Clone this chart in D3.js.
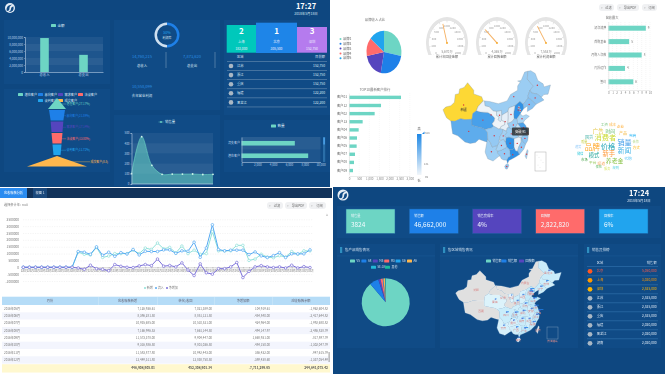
<!DOCTYPE html>
<html>
<head>
<meta charset="utf-8">
<script src="https://cdnjs.cloudflare.com/ajax/libs/d3/7.8.5/d3.min.js"></script>
<style>
html, body { margin: 0; padding: 0; background: #fff; overflow: hidden; }
svg { display: block; filter: blur(0.35px); }
text { font-family: "Noto Sans CJK SC", "Noto Sans", sans-serif; }
</style>
</head>
<body>
<script>
// palette shared by all four dashboards
var teal = "#6dd5c4", blue = "#1e80e8", purple = "#5545be", red = "#ff6b6b", sky = "#21a4ee", orange = "#ffb74d";

// dashboard 1
var incomeCats = ["总收入", "总支出"];
var incomeVals = [9700000, 4900000];
var funnelNames = ["潜在客户", "意向客户", "需求客户", "洽谈客户", "谈判客户", "成交客户"];
var funnelLabels = ["潜在客户(27.17%)", "意向客户(21.89%)", "需求客户(17.14%)", "洽谈客户(13.80%)", "谈判客户(11.72%)", "成交客户(8.8)"];
var funnelVals = [27, 24, 19, 16.5, 13.5, 90];
var salesVals = [101, 464, 183, 95, 97, 97, 98, 93, 95];
var salesCats = ["1月", "2月", "3月", "4月", "5月", "6月", "7月", "8月", "9月"];
var podiumRank = ["2", "1", "3"];
var podiumCity = ["上海", "北京", "深圳"];
var podiumVals = ["183,000", "305,500", "152,750"];
var rankCity = ["江苏", "浙江", "重庆", "福建", "黑龙江"];
var rankVals = ["152,750", "152,750", "152,750", "122,200", "122,200"];
var custCats = ["潜在客户", "流失客户"];
var custVals = [8440, 6750];

// dashboard 2
var brandNames = ["品牌1", "品牌2", "品牌3", "品牌4", "品牌5"];
var brandVals = [28, 25, 19, 14, 14];
var gaugeVals = [880, 620, 740];
var gaugeText = ["5,670万", "4,365万", "7,553万"];
var gaugeNames = ["累计年回收金额", "累计回款金额", "累计利润金额"];
var topCats = ["客户01", "客户12", "客户02", "客户13", "客户04", "客户06", "客户05", "客户07", "客户08", "客户09"];
var topVals = [2566, 1580, 1266, 674, 477, 395, 378, 296, 247, 197];
var channelCats = ["初次消费", "首购基金", "月购人次数", "再投运作", "签约"];
var channelVals = [9, 5, 8, 4, 6];
var cloudWords = ["价格", "消费者", "新手", "品牌", "销量", "新闻", "养老金", "模式", "广告", "时间", "国货", "产品", "渠道", "代购", "平台", "工资", "成本", "企业", "电商", "方式", "合作", "规则", "服务", "市场", "微信", "质量", "保险", "趋势"];
var cloudWeights = [95, 95, 80, 100, 92, 85, 72, 65, 65, 55, 45, 45, 42, 40, 40, 38, 38, 35, 35, 35, 32, 32, 30, 30, 30, 28, 28, 28];
var cloudColors = ["#26a6b8", "#cddc39", "#ff9a3c", "#ffa726", "#3d9be9", "#45b4e6", "#8bc34a", "#26a69a", "#e6c84a", "#66bb6a", "#4db6ac", "#f4b942", "#f7a35c", "#4fc3f7", "#9ccc65", "#81c784", "#ffb74d", "#ffa726", "#29b6f6", "#ffb300", "#aed581", "#4dd0e1", "#dce775", "#43a047", "#26c6da", "#c0ca33", "#66bb6a", "#90caf9"];

// dashboard 3
var flowMonths = d3.range(48).map(i => (2012 + Math.floor(i / 12)) + "年" + String(i % 12 + 1).padStart(2, "0") + "月");
var flowNew = [0, 0, 0, 0, 0, 0, 0, 0, 0, 1100000, 950000, 900000, 1450000, 720000, 820000, 1000000, 1000000, 1000000, 1250000, 1000000, 1400000, 1300000, 1770000, 1350000, 1450000, 1050000, 1550000, 1000000, 1250000, 950000, 1000000, 2600000, 1200000, 1200000, 1200000, 1600000, 1600000, 500000, 600000, 950000, 750000, 700000, 850000, 750000, 1150000, 950000, 1200000, 1200000];
var flowIn = [0, 0, 0, 0, 0, 0, 0, 0, 0, 1150000, 1100000, 950000, 1490000, 880000, 1100000, 800000, 1070000, 970000, 1300000, 900000, 1170000, 1150000, 1150000, 1270000, 1270000, 1020000, 1200000, 1170000, 1830000, 730000, 1410000, 3100000, 1300000, 1200000, 1250000, 1250000, 1250000, 930000, 1120000, 830000, 710000, 850000, 1070000, 710000, 980000, 980000, 980000, 1270000];
var flowNet = [0, 0, 0, 0, 0, 0, 0, 0, 0, -50000, -150000, 150000, -100000, -150000, -250000, 200000, 70000, 0, -20000, 100000, 200000, 120000, 600000, 80000, 130000, 30000, 320000, -200000, -600000, 250000, -400000, -500000, -100000, -100000, 30000, 350000, -750000, -300000, 30000, 120000, 30000, -20000, 30000, -50000, 150000, -50000, 50000, -20000];
var flowNames = ["新增", "流入", "净增加"];
var tableHead = ["月份", "应收账款新增", "转化/收回", "净增加额", "应收账款余额"];
var tableRows = [
  ["2016年05月", "7,126,936.61", "7,021,389.00", "104,919.61", "-1,962,604.82"],
  ["2016年06月", "8,396,281.50", "8,851,121.50", "-454,840.00", "-2,417,644.82"],
  ["2016年07月", "10,935,685.00", "10,510,521.00", "424,964.00", "-1,992,680.82"],
  ["2016年08月", "7,166,996.53", "7,661,144.50", "-494,147.97", "-2,486,828.79"],
  ["2016年09月", "11,573,378.00", "9,904,447.00", "1,668,931.00", "-817,897.79"],
  ["2016年10月", "9,316,886.50", "9,801,036.50", "-484,150.00", "-1,302,047.79"],
  ["2016年11月", "11,583,877.80", "10,942,443.00", "356,432.00", "-947,615.79"],
  ["2016年12月", "12,449,311.80", "12,838,750.50", "-389,438.60", "-1,337,054.49"]
];
var tableTotal = ["", "448,908,905.01", "452,308,901.34", "-7,711,299.65", "244,841,075.42"];

// dashboard 4
var kpiNames = ["销售量", "销售额", "销售完成率", "回款额", "回款率"];
var kpiVals = ["3824", "46,662,000", "4%", "2,822,820", "6%"];
var kpiColors = [teal, blue, purple, red, sky];
var productNames = ["V5", "A8", "M5", "M3", "G6", "A6", "5E-OA", "其他"];
var productVals = [88.9, 6.1, 1.5, 1.5, 0.5, 1, 0.3, 0.2];
var productColors = [teal, blue, purple, red, sky, orange, "#22b8d6", "#1abc9c"];
var leaderCity = ["北京", "上海", "深圳", "江苏", "浙江", "重庆", "福建", "黑龙江", "湖南"];
var leaderVals = ["5,050,000", "3,030,000", "2,525,000", "2,525,000", "2,525,000", "2,525,000", "2,020,000", "2,020,000", "2,020,000"];

// rough province outlines, lon/lat
var provinces = [
  {id: "XJ", name: "新疆", a: 324, b: 0, c: [73.5,39.5,75,40.5,78,41,80,42.2,80.5,45,82.5,45.3,83,47,85.5,47.5,87.5,49.2,91,46.5,91,45.2,95.5,44.2,96.4,42.7,93.5,40.7,92.5,39.2,90.5,38.2,90,36.1,86,36,83.5,36.3,80.3,35.4,78,35.5,75.5,36.7,74.5,38]},
  {id: "XZ", name: "西藏", a: 235, b: 0, c: [78,35.5,80.3,35.4,83.5,36.3,86,36,90,36.1,90,34,93,33.5,96,33,97.5,32.5,98.8,31.5,99,29,98.5,28,97,28.3,94,29,92,27.8,89,27.5,86,28,82,30.2,79,31,78.5,33]},
  {id: "QH", name: "青海", a: 265, b: 40, c: [90,36.1,90.5,38.2,92.5,39.2,95,38.7,99,38.6,101,37.8,103,36.6,102.7,35.5,101.5,34.5,102.4,33.6,101,33,99.5,32.8,97.5,32.5,96,33,93,33.5,90,34]},
  {id: "GS", name: "甘肃", a: 99, b: 0, c: [92.5,39.2,93.5,40.7,96.4,42.7,97.2,42.7,97.5,41,100,40.6,102,39.2,104,39,104,37.5,105.5,37,105,36,106,35.3,106.8,35.8,108.6,35.3,108.7,34.2,106.5,33.5,106,32.7,105,32.7,104.3,33,102.4,33.6,101.5,34.5,102.7,35.5,103,36.6,101,37.8,99,38.6,95,38.7]},
  {id: "NX", name: "宁夏", a: 110, b: 30, c: [104,39,106.8,39.3,107,37.6,106.8,35.8,106,35.3,105,36,105.5,37,104,37.5]},
  {id: "NM", name: "内蒙古", a: 150, b: 0, c: [97.2,42.7,100,42.5,105,41.7,110,42.7,112,45,116,46.5,116,48,117.5,49.5,116,49.8,118,50,120,53,121.8,53.3,121.5,50.5,125,48,123,46.5,122,44.7,122,43.8,120.5,42.5,119,41.5,117.3,42.5,114.5,41,111,40.2,110.5,38.9,107,37.6,106.8,39.3,104,39,102,39.2,100,40.6,97.5,41]},
  {id: "HL", name: "黑龙江", a: 150, b: 70, c: [121.8,53.3,123.5,53.5,126,52.5,127.5,50,130.5,48.8,131,47.7,134.7,48.4,133.3,45.1,131,45,129.5,44,127,45.2,124,45.5,123,46.5,125,48,121.5,50.5]},
  {id: "JL", name: "吉林", a: 170, b: 60, c: [123,46.5,124,45.5,127,45.2,129.5,44,131,43,130,42.7,128,42,126.5,41.5,125,42.2,124,43,122,43.8,122,44.7]},
  {id: "LN", name: "辽宁", a: 180, b: 70, c: [122,43.8,124,43,125,42.2,126.5,41.5,124.4,40,121.5,38.9,121.7,40.9,119.5,40,119,41.5,120.5,42.5]},
  {id: "HE", name: "河北", a: 300, b: 80, c: [119.5,40,117.8,38.5,117.5,38,115.5,36.2,114,36.3,113.7,38,114.2,40,114.5,41,117.3,42.5,119,41.5]},
  {id: "BJ", name: "北京", a: 140, b: 100, c: [116,40,116.5,41,117.4,40.6,117,39.6]},
  {id: "TJ", name: "天津", a: 140, b: 70, c: [117,39.6,117.8,40,118,38.7,117,38.7]},
  {id: "SX", name: "山西", a: 105, b: 50, c: [110.5,38.9,111,40.2,114.5,41,114.2,40,113.7,38,114,36.3,112.7,35.2,110.3,34.6,110.5,36.5]},
  {id: "SN", name: "陕西", a: 103, b: 60, c: [110.5,38.9,110.5,36.5,110.3,34.6,111,33.7,111,33.2,110,33,110,32.3,109,32,107.5,32.5,106,32.7,106.5,33.5,108.7,34.2,108.6,35.3,106.8,35.8,107,37.6]},
  {id: "SD", name: "山东", a: 130, b: 90, c: [115.5,36.2,117.5,38,119,37.3,120.8,37.8,122.7,37.2,120,35.8,119.2,34.9,117,34.7,116,34.6,115.8,35.5]},
  {id: "HA", name: "河南", a: 150, b: 70, c: [110.3,34.6,112.7,35.2,114,36.3,115.5,36.2,115.8,35.5,116,34.6,115,33.5,115.5,32.5,114.5,31.9,113,32.3,111,33.2,111,33.7]},
  {id: "JS", name: "江苏", a: 260, b: 100, c: [116,34.6,117,34.7,119.2,34.9,120.5,34,121.9,31.8,120.5,31.1,119.5,31.2,118.5,31.9,118.4,32.7,117,33.7]},
  {id: "AH", name: "安徽", a: 120, b: 60, c: [115,33.5,116,34.6,117,33.7,118.4,32.7,118.5,31.9,119.5,31.2,119,30.3,118,29.5,116.5,29.7,115.9,31,114.9,31.5,115.5,32.5]},
  {id: "SH", name: "上海", a: 170, b: 120, c: [120.9,31.5,121.9,31.8,122,30.9,121,30.8]},
  {id: "ZJ", name: "浙江", a: 170, b: 90, c: [119.5,31.2,120.5,31.1,121,30.8,122,30,121.7,28.5,120.5,27.2,119,28,118,29.5,119,30.3]},
  {id: "HB", name: "湖北", a: 150, b: 70, c: [109,32,110,32.3,110,33,111,33.2,113,32.3,114.5,31.9,115.5,32.5,114.9,31.5,115.9,31,116.5,29.7,114,29.2,111,29.7,109.5,29.5,108.5,30.3,109.8,31.5]},
  {id: "HN", name: "湖南", a: 300, b: 70, c: [109.5,29.5,111,29.7,114,29.2,114,26,113,25.2,111.3,25.3,109.8,26.2,109,28]},
  {id: "JX", name: "江西", a: 100, b: 60, c: [114,29.2,116.5,29.7,118,29.5,118,28,116.5,26,116,24.7,114.8,24.8,114,26]},
  {id: "FJ", name: "福建", a: 165, b: 80, c: [118,29.5,119,28,120.5,27.2,119.6,25.5,118,24.3,117,23.5,116,24.7,116.5,26,118,28]},
  {id: "GD", name: "广东", a: 305, b: 90, c: [111.3,25.3,113,25.2,114,26,114.8,24.8,116,24.7,117,23.5,115,22.7,113.5,22.2,111,21.4,110.3,20.3,109.8,21.5,110.5,22.5,111.8,23,111.5,24.7]},
  {id: "GX", name: "广西", a: 160, b: 60, c: [104.5,24.7,105.5,24.9,107,25.2,108.5,25.7,109.8,26.2,111.3,25.3,111.5,24.7,111.8,23,110.5,22.5,109.8,21.5,108,21.6,106.7,22,106,23,104.5,24]},
  {id: "GZ", name: "贵州", a: 135, b: 50, c: [103.7,25.3,104.5,26.8,105.5,28,106.5,28.7,108,29,109,28,109.8,26.2,108.5,25.7,107,25.2,105.5,24.9,104.5,24.7]},
  {id: "YN", name: "云南", a: 145, b: 50, c: [97.5,24.5,98.5,28,99,29,100.5,27.8,101.5,26.2,103,26.5,104.5,26.8,103.7,25.3,104.5,24.7,104.5,24,106,23,105.3,22.9,102,21.2,101,21.5,99,22,97.7,24]},
  {id: "SC", name: "四川", a: 160, b: 70, c: [97.5,32.5,99.5,32.8,101,33,102.4,33.6,104.3,33,105,32.7,106,32.7,107.5,32.5,107.3,31.3,106,30,105.5,28.6,105.5,28,104.5,26.8,103,26.5,101.5,26.2,100.5,27.8,99,29,98.8,31.5]},
  {id: "CQ", name: "重庆", a: 140, b: 90, c: [106,30,107.3,31.3,107.5,32.5,109,32,109.8,31.5,108.5,30.3,109.5,29.5,109,28,108,29,106.5,28.7,105.5,28.6]},
  {id: "HI", name: "海南", a: 170, b: 40, c: [108.7,19.3,109.5,20.1,110.7,20.1,111,19.5,110,18.3,109,18.5]},
  {id: "TW", name: "台湾", a: 140, b: 0, c: [121.5,25.3,122,24.8,121,22,120.2,23]}
];

var svg = d3.select("body").append("svg").attr("width", 665).attr("height", 374);

function txt(g, x, y, s, size, fill, anchor, weight) {
  return g.append("text").attr("x", x).attr("y", y).attr("dy", "0.35em")
    .attr("font-size", size).attr("fill", fill)
    .attr("text-anchor", anchor || "middle")
    .attr("font-weight", weight || "normal").text(s);
}
function box(g, x, y, w, h, fill, rx) {
  return g.append("rect").attr("x", x).attr("y", y).attr("width", w).attr("height", h).attr("fill", fill).attr("rx", rx || 0);
}
function styleAxis(sel, col, size) {
  sel.selectAll("text").attr("fill", col).attr("font-size", size);
  sel.selectAll("line").attr("stroke", col).attr("stroke-width", 0.4);
  sel.selectAll("path").attr("stroke", col).attr("stroke-width", 0.6);
}
function logo(g, cx, cy, r) {
  g.append("circle").attr("cx", cx).attr("cy", cy).attr("r", r).attr("fill", "#e6eef6");
  g.append("path").attr("fill", "#0f4a85")
    .attr("d", `M${cx - r * 0.7},${cy + r * 0.5} Q${cx - r * 0.1},${cy + r * 0.8} ${cx - r * 0.1},${cy} Q${cx - r * 0.1},${cy - r * 0.5} ${cx + r * 0.6},${cy - r * 0.7} Q${cx - r * 0.8},${cy - r * 0.7} ${cx - r * 0.7},${cy + r * 0.5}Z`);
  g.append("path").attr("fill", "#0f4a85")
    .attr("d", `M${cx + r * 0.7},${cy - r * 0.3} Q${cx + r * 0.2},${cy - r * 0.3} ${cx + r * 0.2},${cy + r * 0.2} Q${cx + r * 0.2},${cy + r * 0.6} ${cx - r * 0.3},${cy + r * 0.8} Q${cx + r * 0.9},${cy + r * 0.8} ${cx + r * 0.7},${cy - r * 0.3}Z`);
}
function legendItem(g, x, y, name, col, tc, size) {
  box(g, x, y - 1.5, 5, 3, col, 0.6);
  txt(g, x + 6.5, y, name, size || 3.6, tc, "start");
}
function stripes(g, x, y0, w, y1, scale, ticks) {
  ticks.slice(0, -1).forEach((t, i) => {
    box(g, x, scale(ticks[i + 1]), w, scale(t) - scale(ticks[i + 1]), i % 2 ? "rgba(255,255,255,0.11)" : "rgba(255,255,255,0.06)");
  });
}

// ---------- top left dashboard ----------
var bgDark = "#0e4780", cardDark = "#104b86", axisCol = "#b9cfe6";
var a = svg.append("g");
box(a, 0, 0, 330, 187, bgDark);
[[4, 20, 106, 64], [4, 89, 106, 83], [114, 20, 106, 90], [114, 115, 106, 71], [224, 20, 106, 95], [224, 120, 106, 52]].forEach(c => box(a, c[0], c[1], c[2], c[3], cardDark));
logo(a, 10, 8, 5);
txt(a, 306, 6, "17:27", 7.5, "#fff", "middle", "bold");
txt(a, 306, 13.5, "2018年5月18日", 3.4, "#dbe7f3");

// income bars
legendItem(a, 51, 25.5, "金额", teal, "#d6e4f2");
var incX = d3.scaleBand().domain(incomeCats).range([25, 103]);
var incY = d3.scaleLinear().domain([0, 10000000]).range([72, 37]);
stripes(a, 25, 37, 78, 72, incY, incY.ticks(5));
a.selectAll(".incbar").data(incomeVals).join("rect").attr("class", "incbar")
  .attr("x", (d, i) => incX(incomeCats[i]) + incX.bandwidth() / 2 - 4.3)
  .attr("y", d => incY(d)).attr("width", 8.6).attr("height", d => 72 - incY(d)).attr("fill", teal);
a.append("g").attr("transform", "translate(25,0)").call(d3.axisLeft(incY).ticks(5).tickSize(1).tickPadding(1).tickFormat(d3.format(",")))
  .call(styleAxis, axisCol, 3.1);
a.append("g").attr("transform", "translate(0,72)").call(d3.axisBottom(incX).tickSize(0).tickPadding(2))
  .call(styleAxis, axisCol, 3.3);

// funnel
funnelNames.forEach((n, i) => {
  var fx = i < 4 ? 18 + i * 20 : 38 + (i - 4) * 20;
  var fy = i < 4 ? 94.5 : 100.5;
  legendItem(a, fx, fy, n, [teal, blue, purple, red, sky, orange][i], "#d6e4f2", 3.2);
});
var funW = d3.scaleLinear().domain([0, 90]).range([0, 60]);
var funY = d3.scaleBand().domain(d3.range(6)).range([98, 167]);
var funCx = 57;
funnelVals.forEach((v, i) => {
  var topW = i == 0 || i == 5 ? 0 : funW(v);
  var botW = i == 0 ? funW(v) : i == 5 ? funW(v) : funW(funnelVals[i + 1]);
  if (i == 4) botW = funW(v) * 0.78;
  var y0 = funY(i) + (i ? 0.5 : 0), y1 = funY(i) + funY.bandwidth() - 0.5;
  var col = [teal, blue, purple, red, sky, orange][i];
  a.append("path").attr("fill", col)
    .attr("d", `M${funCx - topW / 2},${y0}L${funCx + topW / 2},${y0}L${funCx + botW / 2},${y1}L${funCx - botW / 2},${y1}Z`);
  var ly = (y0 + y1) / 2 + 0.5;
  a.append("line").attr("x1", funCx + (topW + botW) / 4 - (i == 5 ? 10 : 0)).attr("y1", ly).attr("x2", i == 5 ? 90 : 66).attr("y2", ly).attr("stroke", col).attr("stroke-width", 0.4);
  txt(a, i == 5 ? 90.5 : 66.5, ly, funnelLabels[i], 2.9, col, "start");
});

// ring and totals
var ring = d3.arc().innerRadius(10).outerRadius(12.5);
a.append("path").attr("transform", "translate(167,35)").attr("d", ring({startAngle: 0, endAngle: Math.PI})).attr("fill", blue);
a.append("path").attr("transform", "translate(167,35)").attr("d", ring({startAngle: Math.PI, endAngle: 2 * Math.PI})).attr("fill", "#cfe0f0");
txt(a, 167, 33, "50%", 3.6, sky);
txt(a, 167, 37.5, "利润率", 3, "#dbe7f3");
txt(a, 142, 57, "14,760,215", 4, "#2b8de0");
txt(a, 142, 66, "总收入", 3.4, "#dbe7f3");
txt(a, 192, 57, "7,873,620", 4, "#2b8de0");
txt(a, 192, 66, "总支出", 3.4, "#dbe7f3");
txt(a, 142, 87, "10,558,099", 4, "#2b8de0");
txt(a, 142, 96, "去年营业利润", 3.4, "#dbe7f3");
[166, 215].forEach(x => box(a, x - 0.4, 52, 0.8, 16, "#5d86ad"));

// sales area
a.append("circle").attr("cx", 161).attr("cy", 122).attr("r", 0.9).attr("fill", teal);
a.append("line").attr("x1", 158.5).attr("x2", 163.5).attr("y1", 122).attr("y2", 122).attr("stroke", teal).attr("stroke-width", 0.5);
txt(a, 165, 122, "销售量", 3.4, "#d6e4f2", "start");
var salX = d3.scalePoint().domain(salesCats).range([131.5, 213]);
var salY = d3.scaleLinear().domain([0, 500]).range([184, 133]);
stripes(a, 131.5, 133, 81.5, 184, salY, salY.ticks(5));
a.append("path").datum(salesVals)
  .attr("d", d3.area().x((d, i) => salX(salesCats[i])).y0(184).y1(d => salY(d)).curve(d3.curveCatmullRom))
  .attr("fill", "rgba(109,213,196,0.55)");
a.append("path").datum(salesVals)
  .attr("d", d3.line().x((d, i) => salX(salesCats[i])).y(d => salY(d)).curve(d3.curveCatmullRom))
  .attr("fill", "none").attr("stroke", teal).attr("stroke-width", 0.6);
a.selectAll(".salpt").data(salesVals).join("circle").attr("class", "salpt")
  .attr("cx", (d, i) => salX(salesCats[i])).attr("cy", d => salY(d)).attr("r", 0.9).attr("fill", "#cdf3ea");
a.append("g").attr("transform", "translate(131.5,0)").call(d3.axisLeft(salY).ticks(5).tickSize(1).tickPadding(1)).call(styleAxis, axisCol, 3);
a.append("line").attr("x1", 131.5).attr("x2", 213).attr("y1", 184).attr("y2", 184).attr("stroke", axisCol).attr("stroke-width", 0.7);

// podium
[[226.7, 25, 29.3, 27.7, "#00c8bb"], [256, 22.7, 41, 30.3, "#1e85e8"], [297, 27, 30, 25.7, "#b57bee"]].forEach((p, i) => {
  box(a, p[0], p[1], p[2], p[3], p[4]);
  var mx = p[0] + p[2] / 2;
  txt(a, mx, 31.5, podiumRank[i], 8, "#fff", "middle", "bold");
  txt(a, mx, 42, podiumCity[i], 3.3, "#eef");
  txt(a, mx, 48.5, podiumVals[i], 3.3, "#eef");
});
txt(a, 237, 57, "区域", 3.3, "#cfdfef", "start");
txt(a, 325, 57, "目前额", 3.3, "#cfdfef", "end");
box(a, 227, 61, 100, 0.7, "#5d86ad");
rankCity.forEach((c, i) => {
  var ry = 66 + i * 9.1;
  a.append("circle").attr("cx", 231).attr("cy", ry).attr("r", 2.3).attr("fill", "#a9b7c4");
  txt(a, 237, ry, c, 3.3, "#dbe7f3", "start");
  txt(a, 325, ry, rankVals[i], 3.3, "#dbe7f3", "end");
  box(a, 227, ry + 4.2, 100, 0.7, "#5d86ad");
});

// customer bars
legendItem(a, 271, 126, "数量", teal, "#d6e4f2");
var cusY = d3.scaleBand().domain(["流失客户", "潜在客户"]).range([137, 162]);
var cusX = d3.scaleLinear().domain([0, 10000]).range([241.5, 320.5]);
box(a, 241.5, 137, 79, 12.5, "rgba(255,255,255,0.1)");
box(a, 241.5, 149.5, 79, 12.5, "rgba(255,255,255,0.06)");
a.selectAll(".cusbar").data(custVals).join("rect").attr("class", "cusbar")
  .attr("x", 241.5).attr("y", (d, i) => cusY(custCats[i]) + cusY.bandwidth() / 2 - 2.3)
  .attr("width", d => cusX(d) - 241.5).attr("height", 4.6).attr("fill", teal);
a.append("g").attr("transform", "translate(241.5,0)").call(d3.axisLeft(cusY).tickSize(0).tickPadding(1.5)).call(styleAxis, axisCol, 3);
a.append("g").attr("transform", "translate(0,162)").call(d3.axisBottom(cusX).ticks(5).tickSize(0).tickPadding(2).tickFormat(d3.format(","))).call(styleAxis, axisCol, 3);
box(a, 323, 137, 2.2, 25, "#2a6ea8");
box(a, 323.3, 137.5, 1.6, 7, "#4aa0e8");

// ---------- top right dashboard ----------
var b = svg.append("g");
function buttons(g, list) {
  list.forEach(p => {
    box(g, p[0], p[1], p[2], 7, "#f0f1f3", 3);
    txt(g, p[0] + p[2] / 2 + 2, p[1] + 3.5, p[3], 3.2, "#666");
    txt(g, p[0] + 3, p[1] + 3.5, "▿", 3.2, "#999");
  });
}
buttons(b, [[599, 4, 15, "过滤"], [617, 4, 22, "导出PDF"], [642, 4, 15, "订阅"]]);

txt(b, 375, 20, "品牌收入占比", 3.4, "#777");
brandNames.forEach((n, i) => {
  var col = [teal, blue, purple, red, sky][i];
  b.append("circle").attr("cx", 340.5).attr("cy", 39 + i * 4.8).attr("r", 1).attr("fill", col);
  txt(b, 343, 39 + i * 4.8, n, 3.3, "#666", "start");
});
var pieG = b.append("g").attr("transform", "translate(384,52) scale(1,1.22)");
var pieBrand = d3.pie().sort(null)(brandVals);
pieG.selectAll("path").data(pieBrand).join("path")
  .attr("d", d3.arc().innerRadius(0).outerRadius(17.5))
  .attr("fill", (d, i) => [teal, blue, purple, red, sky][i]);

// gauges
var gaugeAngle = d3.scaleLinear().domain([0, 2000]).range([-125, 125]);
[447, 497, 546].forEach((cx, gi) => {
  var clipId = "gclip" + gi;
  b.append("clipPath").attr("id", clipId).append("rect").attr("x", cx - 25).attr("y", 10).attr("width", 50).attr("height", 45);
  var outer = b.append("g").attr("clip-path", `url(#${clipId})`);
  var g = outer.append("g").attr("transform", `translate(${cx},43) scale(1,1.24)`);
  var rad = d => gaugeAngle(d) * Math.PI / 180;
  g.append("path").attr("d", d3.arc()({innerRadius: 18.6, outerRadius: 21, startAngle: rad(0), endAngle: rad(2000)})).attr("fill", "#e4e4e4");
  g.append("path").attr("d", d3.arc()({innerRadius: 18.2, outerRadius: 18.6, startAngle: rad(0), endAngle: rad(2000)})).attr("fill", "#d4d4d4");
  d3.range(0, 2001, 200).forEach(t => {
    var an = rad(t);
    g.append("line").attr("x1", 16.6 * Math.sin(an)).attr("y1", -16.6 * Math.cos(an))
      .attr("x2", 18.2 * Math.sin(an)).attr("y2", -18.2 * Math.cos(an)).attr("stroke", "#bbb").attr("stroke-width", 0.3);
    g.append("text").attr("transform", `translate(${13.5 * Math.sin(an)},${-13.5 * Math.cos(an)}) scale(1,0.81)`)
      .attr("dy", "0.35em").attr("text-anchor", "middle").attr("font-size", 2.8).attr("fill", "#999").text(t);
  });
  var an = rad(gaugeVals[gi]);
  g.append("line").attr("x1", 0).attr("y1", 0).attr("x2", 16 * Math.sin(an)).attr("y2", -16 * Math.cos(an))
    .attr("stroke", "#f5b266").attr("stroke-width", 0.9);
  g.append("circle").attr("r", 0.9).attr("fill", "#f5a623");
  txt(outer, cx, 52, gaugeText[gi], 3.2, "#888");
  txt(b, cx, 57, gaugeNames[gi], 3.2, "#666");
});

// channel bars
txt(b, 612, 18, "营收最大", 3.2, "#777");
var chY = d3.scaleBand().domain(channelCats).range([21.5, 88.5]);
var chX = d3.scaleLinear().domain([0, 10]).range([608.3, 650]);
chX.ticks(10).forEach(t => b.append("line").attr("x1", chX(t)).attr("x2", chX(t)).attr("y1", 22).attr("y2", 90).attr("stroke", "#e9e9e9").attr("stroke-width", 0.4).attr("stroke-dasharray", "1,1"));
b.selectAll(".chbar").data(channelVals).join("rect").attr("class", "chbar")
  .attr("x", 608.3).attr("y", (d, i) => chY(channelCats[i]) + chY.bandwidth() / 2 - 2.5)
  .attr("width", d => chX(d) - 608.3).attr("height", 5).attr("fill", teal);
b.selectAll(".chlab").data(channelVals).join("text").attr("class", "chlab")
  .attr("x", d => chX(d) + 2).attr("y", (d, i) => chY(channelCats[i]) + chY.bandwidth() / 2).attr("dy", "0.35em")
  .attr("font-size", 3).attr("fill", "#777").text(d => d);
b.append("g").attr("transform", "translate(608.3,0)").call(d3.axisLeft(chY).tickSize(0).tickPadding(2)).call(styleAxis, "#777", 3);
b.append("g").attr("transform", "translate(0,90)").call(d3.axisBottom(chX).ticks(10).tickSize(0).tickPadding(2)).call(styleAxis, "#888", 3);
b.selectAll(".domain").attr("stroke", "#ccc");

// top 10 bars
txt(b, 375, 90, "TOP10最新客户排行", 3.4, "#777");
var topY = d3.scaleBand().domain(topCats).range([93.3, 174.6]);
var topX = d3.scaleLinear().domain([0, 3000]).range([349, 409.8]);
topX.ticks(6).forEach(t => b.append("line").attr("x1", topX(t)).attr("x2", topX(t)).attr("y1", 93).attr("y2", 176).attr("stroke", "#eee").attr("stroke-width", 0.4).attr("stroke-dasharray", "1,1"));
b.selectAll(".topbar").data(topVals).join("rect").attr("class", "topbar")
  .attr("x", 349).attr("y", (d, i) => topY(topCats[i]) + topY.bandwidth() / 2 - 1.7)
  .attr("width", d => topX(d) - 349).attr("height", 3.4).attr("fill", teal);
b.append("g").attr("transform", "translate(349,0)").call(d3.axisLeft(topY).tickSize(0).tickPadding(2)).call(styleAxis, "#666", 3.2);
b.append("g").attr("transform", "translate(0,176)").call(d3.axisBottom(topX).ticks(6).tickSize(0).tickPadding(1.5)).call(styleAxis, "#888", 3);
b.selectAll(".domain").attr("stroke", "#ddd");

// visual map legend
var defs = svg.append("defs");
var lg = defs.append("linearGradient").attr("id", "vmap").attr("x1", 0).attr("x2", 0).attr("y1", 0).attr("y2", 1);
lg.append("stop").attr("offset", "0%").attr("stop-color", "#1e88e5");
lg.append("stop").attr("offset", "100%").attr("stop-color", "#f2f6fa");
box(b, 417, 134, 4.5, 41, "url(#vmap)");
txt(b, 419, 129, "高", 3.2, "#666");
txt(b, 419, 180.5, "低", 3.2, "#666");
txt(b, 425, 133, "324", 2.8, "#777", "start");
txt(b, 424, 164, "131", 2.8, "#777", "start");
txt(b, 425, 177, "99", 2.8, "#777", "start");
b.append("path").attr("d", "M422,134L424.5,131.5L424.5,134Z").attr("fill", "#1e88e5");

// china map, value colours
var toPts = p => d3.range(0, p.c.length, 2).map(i => [p.c[i], p.c[i + 1]]);
var feature = p => {
  var ring = toPts(p);
  ring.push(ring[0]);
  return {type: "Feature", properties: p, geometry: {type: "Polygon", coordinates: [ring]}};
};
function flatPath(x0, x1, y0, y1) {
  var lon = d3.scaleLinear().domain([73.5, 135]).range([x0, x1]);
  var lat = d3.scaleLinear().domain([53.5, 18]).range([y0, y1]);
  return d3.geoPath(d3.geoTransform({point: function(x, y) { this.stream.point(lon(x), lat(y)); }}));
}
var pathB = flatPath(443, 551, 70.7, 170);
var colB = d3.scaleLinear().domain([99, 131, 324]).range(["#eef3f8", "#a9d5f5", "#1e88e5"]);
var feats = provinces.map(feature);
b.selectAll(".prov").data(feats).join("path").attr("class", "prov")
  .attr("d", pathB).attr("stroke", "#7b8ea0").attr("stroke-width", 0.3)
  .attr("fill", d => d.properties.id == "XJ" ? "#fdd835" : colB(d.properties.a));
b.selectAll(".dot").data(feats).join("circle").attr("class", "dot")
  .attr("cx", d => pathB.centroid(d)[0]).attr("cy", d => pathB.centroid(d)[1]).attr("r", 0.7).attr("fill", "#d9323a");
var xj = pathB.centroid(feats[0]);
txt(b, xj[0], xj[1] + 5, "新疆", 3.2, "#333");
var ah = pathB.centroid(feats.find(d => d.properties.id == "AH"));
box(b, ah[0] - 7.5, ah[1] - 4, 17, 8, "rgba(40,40,40,0.82)", 1);
txt(b, ah[0] + 1, ah[1], "安徽 91", 3.3, "#fff");
box(b, 535, 152, 11, 19, "#fff").attr("stroke", "#aaa").attr("stroke-width", 0.5);
d3.range(6).forEach(i => b.append("circle").attr("cx", 537 + (i * 37 % 7)).attr("cy", 155 + i * 2.5).attr("r", 0.25).attr("fill", "#999"));

// word cloud, spiral placement in list order
var cloudSize = d3.scaleLinear().domain([28, 100]).range([3, 7.6]);
var placed = [];
var cloudG = b.append("g");
cloudWords.forEach((w, i) => {
  var t = cloudG.append("text").attr("font-size", cloudSize(cloudWeights[i])).attr("fill", cloudColors[i]).attr("text-anchor", "middle").attr("dy", "0.35em").text(w);
  var tw = t.node().getComputedTextLength() + 0.6, th = cloudSize(cloudWeights[i]) + 0.4;
  var k = 0, px = 0, py = 0;
  for (k = 0; k < 3000; k++) {
    var an = 0.3 * k - Math.PI / 2;
    px = 608 + 0.12 * k * 1.1 * Math.cos(an);
    py = 146 + 0.12 * k * 0.85 * Math.sin(an);
    var hit = placed.some(q => Math.abs(q[0] - px) < (q[2] + tw) / 2 && Math.abs(q[1] - py) < (q[3] + th) / 2);
    if (!hit) break;
  }
  placed.push([px, py, tw, th]);
  t.attr("x", px).attr("y", py);
});

// ---------- bottom left dashboard ----------
var c = svg.append("g");
box(c, 0, 188, 332, 10, "#12335b");
box(c, 0, 188, 27, 10, "#2b8cf0");
box(c, 33, 188, 14, 10, "#1c4a7d");
txt(c, 13.5, 193, "应收账款分析", 3.2, "#fff");
txt(c, 40, 193, "视图 1", 3.2, "#dfe9f4");
txt(c, 4, 205, "选择会计年:", 3.2, "#777", "start");
txt(c, 22, 205, "null", 3.2, "#777", "start");
buttons(c, [[267, 202, 16, "过滤"], [285, 202, 22, "导出PDF"], [309, 202, 17, "订阅"]]);
txt(c, 327, 215, "⌂", 4, "#888");

var lineX = d3.scalePoint().domain(flowMonths).range([23.3, 310]);
var lineY = d3.scaleLinear().domain([-1000000, 3500000]).range([281, 219.3]);
var grid = c.append("g").attr("transform", "translate(23,0)")
  .call(d3.axisLeft(lineY).ticks(9).tickSize(-290).tickPadding(4).tickFormat(d => d));
grid.call(styleAxis, "#777", 3.2);
grid.selectAll("line").attr("stroke", "#e4e4e4").attr("stroke-width", 0.4).attr("stroke-dasharray", "1.2,1.2");
grid.select(".domain").remove();
var xa = c.append("g").attr("transform", `translate(0,${lineY(0)})`)
  .call(d3.axisBottom(lineX).tickSize(1).tickPadding(1.5));
xa.call(styleAxis, "#666", 3.4);
xa.select(".domain").attr("stroke", "#bbb");
// the month labels crowd into one band in the original, squeeze each to its slot
xa.selectAll("text").attr("transform", "scale(0.32,1)");
[[flowNew, "#8fe0d8"], [flowIn, "#55a9f2"], [flowNet, "#7a6fd8"]].forEach(s => {
  var vals = s[0], col = s[1];
  c.append("path").datum(vals).attr("fill", "none").attr("stroke", col).attr("stroke-width", 1)
    .attr("d", d3.line().x((d, i) => lineX(flowMonths[i])).y(d => lineY(d)));
  c.append("g").selectAll("circle").data(vals).join("circle")
    .attr("cx", (d, i) => lineX(flowMonths[i])).attr("cy", d => lineY(d)).attr("r", 1.3)
    .attr("fill", "#fff").attr("stroke", col).attr("stroke-width", 0.7);
});
flowNames.forEach((n, i) => {
  var lx = 145 + i * 11;
  c.append("circle").attr("cx", lx).attr("cy", 288).attr("r", 1).attr("fill", ["#8fe0d8", "#55a9f2", "#7a6fd8"][i]);
  txt(c, lx + 1.7, 288, n, 3, "#777", "start");
});

// table
var colEdges = [2, 98, 157, 214, 272, 330];
var rowTop = 296.7, headH = 8.3, rowH = 7.33;
box(c, 2, rowTop, 328, headH, "#b5dcf7");
tableHead.forEach((h, i) => txt(c, (colEdges[i] + colEdges[i + 1]) / 2, rowTop + headH / 2, h, 3.2, "#667"));
colEdges.slice(1, -1).forEach(x => box(c, x, rowTop, 0.4, headH, "#d8ecfa"));
tableRows.forEach((r, ri) => {
  var y = rowTop + headH + ri * rowH;
  box(c, 2, y, 328, rowH, ri % 2 ? "#f3f5fd" : "#ffffff");
  r.forEach((v, i) => {
    if (i == 0) txt(c, 4, y + rowH / 2, v, 3, "#777", "start");
    else txt(c, colEdges[i + 1] - 2, y + rowH / 2, v, 3, "#777", "end");
  });
});
var totalY = rowTop + headH + tableRows.length * rowH + 0.6;
box(c, 2, totalY, 328, 8.3, "#fff8cf");
tableTotal.forEach((v, i) => { if (v) txt(c, colEdges[i + 1] - 2, totalY + 4, v, 3.2, "#555", "end", "bold"); });
box(c, 328.6, 352, 1, 10, "#999");

// ---------- bottom right dashboard ----------
var d = svg.append("g");
box(d, 333, 187, 332, 187, bgDark);
logo(d, 343, 195, 5.5);
txt(d, 639, 193, "17:24", 7.5, "#fff", "middle", "bold");
txt(d, 639, 200.5, "2018年5月18日", 3.4, "#dbe7f3");
box(d, 337, 206, 324, 32, cardDark);
kpiNames.forEach((n, i) => {
  var kx = d3.scaleLinear().domain([0, 4]).range([346, 599])(i);
  box(d, kx, 209, 49, 24.5, kpiColors[i]).attr("stroke", "#1b5f9e").attr("stroke-width", 0.5);
  txt(d, kx + 5, 215.7, n, 3.2, "#eef6fb", "start");
  txt(d, kx + 5, 225, kpiVals[i], 6.4, "#f3fbff", "start");
});
[[337, 244, 98, 104, "售产品销售情况"], [440, 244, 138, 104, "售区域销售情况"], [584, 244, 77, 104, "销售员排榜"]].forEach(s => {
  box(d, s[0], s[1], s[2], s[3], cardDark);
  box(d, s[0], s[1] + 11.7, s[2], 0.5, "#1c5b97");
  box(d, s[0] + 3, s[1] + 3, 2.2, 6, "#2f8fc0");
  txt(d, s[0] + 8, s[1] + 6, s[4], 3.5, "#cfe0ef", "start");
});
productNames.forEach((n, i) => {
  var px = i < 6 ? 350 + i * 11.4 : 371 + (i - 6) * 14;
  var py = i < 6 ? 261 : 267.3;
  legendItem(d, px, py, n, productColors[i], "#cfe0ef", 2.9);
});
var prodPie = d3.pie().sort(null)(productVals);
d.append("g").attr("transform", "translate(385.7,302.3)").selectAll("path").data(prodPie).join("path")
  .attr("d", d3.arc().innerRadius(0).outerRadius(24))
  .attr("fill", (p, i) => productColors[i]);

legendItem(d, 486, 261, "销售额", teal, "#cfe0ef", 3);
legendItem(d, 501.5, 261, "销售额", blue, "#cfe0ef", 3);
legendItem(d, 519, 261, "回款额", purple, "#cfe0ef", 3);
var pathD = flatPath(455.7, 561.7, 260.7, 342.7);
var colD = d3.scaleLinear().domain([30, 120]).range(["#e2f5fc", "#a9e0f7"]);
d.selectAll(".prov2").data(feats).join("path").attr("class", "prov2")
  .attr("d", pathD).attr("stroke", "#e6f3fa").attr("stroke-width", 0.25)
  .attr("fill", f => f.properties.b ? colD(f.properties.b) : "#e0e0e0");
var barW = d3.scaleLinear().domain([0, 120]).range([0, 5]);
feats.forEach(f => {
  var pc = pathD.centroid(f), p = f.properties;
  if (p.b) {
    box(d, pc[0], pc[1] - 3, barW(p.b), 0.8, "#1e80e8");
    box(d, pc[0], pc[1] - 2.2, barW(p.b) * 0.5, 0.6, "#5545be");
  }
  txt(d, pc[0], pc[1] + 0.5, p.name, 2.8, "#d98a8a");
});
box(d, 547, 327, 11, 12, "none").attr("stroke", "#8aa6c2").attr("stroke-width", 0.4);
txt(d, 552.5, 341, "南海诸岛", 2.6, "#d98a8a");

txt(d, 596.7, 262.7, "区域", 3.3, "#cfdfef", "start");
txt(d, 656.7, 262.7, "销售额", 3.3, "#cfdfef", "end");
box(d, 587, 266, 71, 0.8, "#2a6aa5");
leaderCity.forEach((n, i) => {
  var ry = 271.3 + i * 9;
  var col = i == 0 ? "#ff5722" : i == 1 ? "#ff9800" : i == 2 ? "#ffb300" : "#a9b7c4";
  var tc = i == 0 ? "#ff5a4a" : i == 1 ? "#ff9800" : i == 2 ? "#ffb300" : "#dbe7f3";
  d.append("circle").attr("cx", 590).attr("cy", ry).attr("r", 2.4).attr("fill", col);
  txt(d, 596.7, ry, n, 3.3, tc, "start");
  txt(d, 656.7, ry, leaderVals[i], 3.3, tc, "end");
  if (i < 8) box(d, 587, ry + 4.1, 71, 0.8, "#2a6aa5");
});
</script>
</body>
</html>
